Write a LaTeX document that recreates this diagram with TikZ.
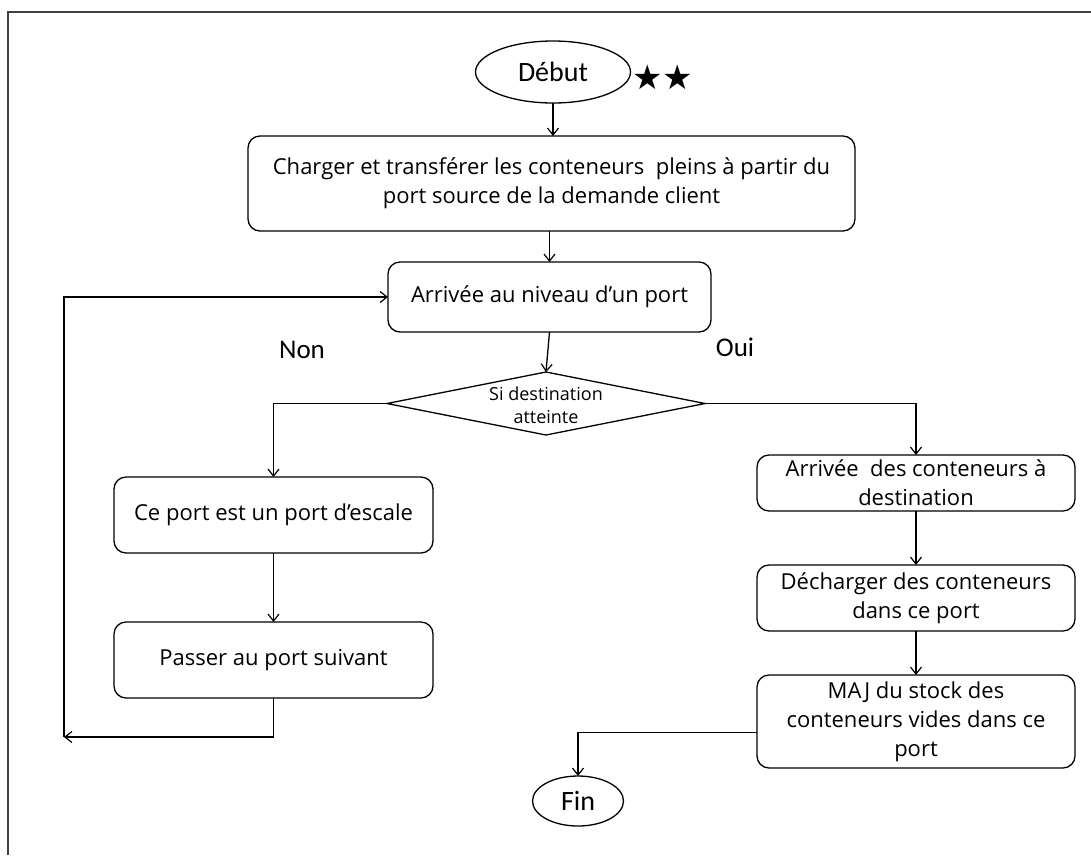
\documentclass[tikz,border=0pt]{standalone}
\usepackage{fontspec}
\setmainfont{Open Sans}
\newfontfamily\labelfont{Carlito}
\newfontfamily\symfont{DejaVu Sans}
\usetikzlibrary{shapes.geometric,arrows.meta}

\tikzset{
  x=1pt, y=-1pt,
  every node/.style={inner sep=0pt, outer sep=0pt},
  stepbox/.style={draw, line width=1.3pt, rounded corners=12pt, align=center,
    font=\fontsize{22}{29}\selectfont},
  terminal/.style={draw, ellipse, line width=1.3pt, font=\labelfont\fontsize{28}{30}\selectfont},
  branch/.style={font=\labelfont\fontsize{27}{30}\selectfont},
  link/.style={line width=1.3pt, -{Straight Barb[length=7pt,width=11pt,line width=1.2pt]}}
}

\begin{document}
\begin{tikzpicture}
\useasboundingbox (0,0) rectangle (1091,855);
% page frame
\draw[line width=1.4pt, black!75] (8,855) -- (8,12) -- (1091,12);

% start / end
\node[terminal, minimum width=155, minimum height=62] (debut) at (553,72) {Début};
\node[font=\symfont\fontsize{34}{36}\selectfont] (stars) at (663,77) {★★};
\node[terminal, minimum width=91, minimum height=50] (fin) at (578,801) {Fin};

% main column
\node[stepbox, minimum width=607, minimum height=95] (charger) at (551.5,183.5)
  {Charger et transférer les conteneurs\ \ pleins à partir du\\port source de la demande client};
\node[stepbox, minimum width=323, minimum height=70] (arrivee) at (549.5,297)
  {Arrivée au niveau d’un port};
\node[draw, diamond, line width=1.3pt, minimum width=318, minimum height=63] (test) at (546,403.5) {};
\node[align=center, font=\fontsize{18}{23}\selectfont] (testtxt) at (546,405) {Si destination\\atteinte};

% left branch
\node[stepbox, minimum width=319, minimum height=76] (escale) at (273.5,515)
  {Ce port est un port d’escale};
\node[stepbox, minimum width=319, minimum height=76] (suivant) at (273.5,660)
  {Passer au port suivant};

% right branch
\node[stepbox, minimum width=318, minimum height=56] (dest) at (916,483)
  {Arrivée\ \ des conteneurs à\\destination};
\node[stepbox, minimum width=318, minimum height=66] (decharger) at (916,598)
  {Décharger des conteneurs\\dans ce port};
\node[stepbox, minimum width=318, minimum height=93] (maj) at (916,721.5)
  {MAJ du stock des\\conteneurs vides dans ce\\port};

% branch labels
\node[branch] (non) at (302,350) {Non};
\node[branch] (oui) at (735,347) {Oui};

% connectors
\draw[link] (debut.south) -- (debut.south |- charger.north);
\draw[link] (arrivee.north |- charger.south) -- (arrivee.north);
\draw[link] (arrivee.south) -- (test.north);
\draw[link] (test.west) -| (escale.north);
\draw[link] (escale.south) -- (suivant.north);
\coordinate (loop) at (64,737);
\draw[link] (suivant.south) |- (loop);
\draw[link] (loop) |- (arrivee.west);
\draw[link] (test.east) -| (dest.north);
\draw[link] (dest.south) -- (decharger.north);
\draw[link] (decharger.south) -- (maj.north);
\draw[link] ([yshift=-11pt]maj.west) -| (fin.north);
\end{tikzpicture}
\end{document}
